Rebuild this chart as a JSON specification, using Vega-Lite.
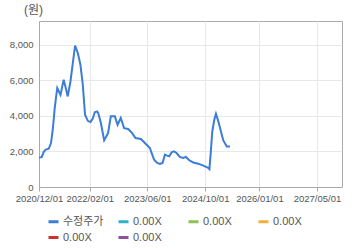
{
  "$schema": "https://vega.github.io/schema/vega-lite/v6.json",
  "width": 303,
  "height": 166,
  "autosize": {"type": "none"},
  "padding": {"left": 39, "top": 21, "right": 18, "bottom": 61},
  "background": "#ffffff",
  "config": {
    "font": "Liberation Sans, Noto Sans CJK KR",
    "view": {"stroke": "#aaaaaa", "strokeWidth": 1},
    "axis": {"labelColor": "#555555", "labelFontSize": 9.5, "gridColor": "#e8e8e8", "domainColor": "#aaaaaa", "tickColor": "#aaaaaa", "labelFont": "Liberation Sans"}
  },
  "data": {
    "values": [
      {"date": "2020/12/01", "price": 1650, "series": "수정주가"},
      {"date": "2020/12/24", "price": 1680, "series": "수정주가"},
      {"date": "2021/01/10", "price": 1980, "series": "수정주가"},
      {"date": "2021/01/27", "price": 2100, "series": "수정주가"},
      {"date": "2021/02/21", "price": 2150, "series": "수정주가"},
      {"date": "2021/03/12", "price": 2470, "series": "수정주가"},
      {"date": "2021/03/24", "price": 3050, "series": "수정주가"},
      {"date": "2021/04/04", "price": 3800, "series": "수정주가"},
      {"date": "2021/04/12", "price": 4400, "series": "수정주가"},
      {"date": "2021/04/23", "price": 5010, "series": "수정주가"},
      {"date": "2021/05/04", "price": 5560, "series": "수정주가"},
      {"date": "2021/05/31", "price": 5180, "series": "수정주가"},
      {"date": "2021/06/27", "price": 6030, "series": "수정주가"},
      {"date": "2021/07/14", "price": 5580, "series": "수정주가"},
      {"date": "2021/07/31", "price": 5090, "series": "수정주가"},
      {"date": "2021/08/23", "price": 5930, "series": "수정주가"},
      {"date": "2021/10/01", "price": 7950, "series": "수정주가"},
      {"date": "2021/10/24", "price": 7530, "series": "수정주가"},
      {"date": "2021/11/15", "price": 6870, "series": "수정주가"},
      {"date": "2021/12/05", "price": 5750, "series": "수정주가"},
      {"date": "2021/12/24", "price": 4060, "series": "수정주가"},
      {"date": "2022/01/16", "price": 3720, "series": "수정주가"},
      {"date": "2022/02/08", "price": 3650, "series": "수정주가"},
      {"date": "2022/02/27", "price": 3850, "series": "수정주가"},
      {"date": "2022/03/16", "price": 4200, "series": "수정주가"},
      {"date": "2022/04/04", "price": 4250, "series": "수정주가"},
      {"date": "2022/04/13", "price": 4170, "series": "수정주가"},
      {"date": "2022/05/06", "price": 3610, "series": "수정주가"},
      {"date": "2022/06/03", "price": 2620, "series": "수정주가"},
      {"date": "2022/07/06", "price": 3030, "series": "수정주가"},
      {"date": "2022/07/29", "price": 3970, "series": "수정주가"},
      {"date": "2022/09/01", "price": 3970, "series": "수정주가"},
      {"date": "2022/09/24", "price": 3500, "series": "수정주가"},
      {"date": "2022/10/21", "price": 3880, "series": "수정주가"},
      {"date": "2022/11/18", "price": 3310, "series": "수정주가"},
      {"date": "2022/12/22", "price": 3260, "series": "수정주가"},
      {"date": "2023/01/25", "price": 3030, "series": "수정주가"},
      {"date": "2023/02/22", "price": 2750, "series": "수정주가"},
      {"date": "2023/04/08", "price": 2700, "series": "수정주가"},
      {"date": "2023/05/12", "price": 2470, "series": "수정주가"},
      {"date": "2023/06/23", "price": 2190, "series": "수정주가"},
      {"date": "2023/07/13", "price": 1815, "series": "수정주가"},
      {"date": "2023/07/29", "price": 1530, "series": "수정주가"},
      {"date": "2023/08/24", "price": 1350, "series": "수정주가"},
      {"date": "2023/09/16", "price": 1290, "series": "수정주가"},
      {"date": "2023/10/08", "price": 1350, "series": "수정주가"},
      {"date": "2023/10/28", "price": 1815, "series": "수정주가"},
      {"date": "2023/11/16", "price": 1760, "series": "수정주가"},
      {"date": "2023/12/03", "price": 1720, "series": "수정주가"},
      {"date": "2023/12/23", "price": 1945, "series": "수정주가"},
      {"date": "2024/01/12", "price": 2000, "series": "수정주가"},
      {"date": "2024/02/03", "price": 1910, "series": "수정주가"},
      {"date": "2024/03/02", "price": 1690, "series": "수정주가"},
      {"date": "2024/03/30", "price": 1630, "series": "수정주가"},
      {"date": "2024/04/22", "price": 1690, "series": "수정주가"},
      {"date": "2024/05/20", "price": 1500, "series": "수정주가"},
      {"date": "2024/06/23", "price": 1380, "series": "수정주가"},
      {"date": "2024/08/04", "price": 1310, "series": "수정주가"},
      {"date": "2024/09/15", "price": 1200, "series": "수정주가"},
      {"date": "2024/10/27", "price": 1070, "series": "수정주가"},
      {"date": "2024/11/06", "price": 1010, "series": "수정주가"},
      {"date": "2024/11/19", "price": 2100, "series": "수정주가"},
      {"date": "2024/11/30", "price": 3120, "series": "수정주가"},
      {"date": "2024/12/17", "price": 3780, "series": "수정주가"},
      {"date": "2024/12/31", "price": 4120, "series": "수정주가"},
      {"date": "2025/01/20", "price": 3690, "series": "수정주가"},
      {"date": "2025/02/11", "price": 3120, "series": "수정주가"},
      {"date": "2025/03/03", "price": 2620, "series": "수정주가"},
      {"date": "2025/04/01", "price": 2280, "series": "수정주가"},
      {"date": "2025/04/28", "price": 2280, "series": "수정주가"}
    ]
  },
  "mark": {"type": "line", "strokeWidth": 2, "interpolate": "linear"},
  "encoding": {
    "x": {
      "field": "date",
      "type": "temporal",
      "scale": {"domain": [{"year": 2020, "month": 12, "date": 1}, {"year": 2027, "month": 11, "date": 28}]},
      "axis": {
        "title": null,
        "format": "%Y/%m/%d",
        "values": [
          {"year": 2020, "month": 12, "date": 1},
          {"year": 2022, "month": 2, "date": 1},
          {"year": 2023, "month": 6, "date": 1},
          {"year": 2024, "month": 10, "date": 1},
          {"year": 2026, "month": 1, "date": 1},
          {"year": 2027, "month": 5, "date": 1}
        ],
        "labelAlign": "center",
        "labelFlush": false,
        "labelOverlap": false,
        "tickSize": 4,
        "labelPadding": 2
      }
    },
    "y": {
      "field": "price",
      "type": "quantitative",
      "scale": {"domain": [0, 9330], "nice": false},
      "axis": {
        "values": [0, 2000, 4000, 6000, 8000],
        "format": ",d",
        "ticks": false,
        "labelPadding": 6,
        "title": "(원)",
        "titleAngle": 0,
        "titleX": -6,
        "titleY": -8,
        "titleAlign": "center",
        "titleBaseline": "alphabetic",
        "titleFontWeight": "normal",
        "titleFontSize": 12,
        "titleColor": "#555555",
        "titleFont": "Liberation Sans, Noto Sans CJK KR"
      }
    },
    "color": {
      "field": "series",
      "type": "nominal",
      "scale": {
        "domain": ["수정주가", "s2", "s3", "s4", "s5", "s6"],
        "range": ["#3b7dd8", "#2bb3c9", "#8fbf55", "#f0b03c", "#c9352b", "#8e4f9e"]
      },
      "legend": {
        "title": null,
        "orient": "none",
        "direction": "horizontal",
        "legendX": 8,
        "legendY": 194,
        "columns": 4,
        "gridAlign": "all",
        "columnPadding": 8,
        "rowPadding": 3,
        "symbolType": "stroke",
        "symbolSize": 100,
        "symbolStrokeWidth": 3,
        "labelOffset": 3,
        "labelFontSize": 11,
        "labelColor": "#555555",
        "labelFont": "Liberation Sans, Noto Sans CJK KR",
        "labelExpr": "datum.label == '수정주가' ? datum.label : '0.00X'"
      }
    }
  }
}
